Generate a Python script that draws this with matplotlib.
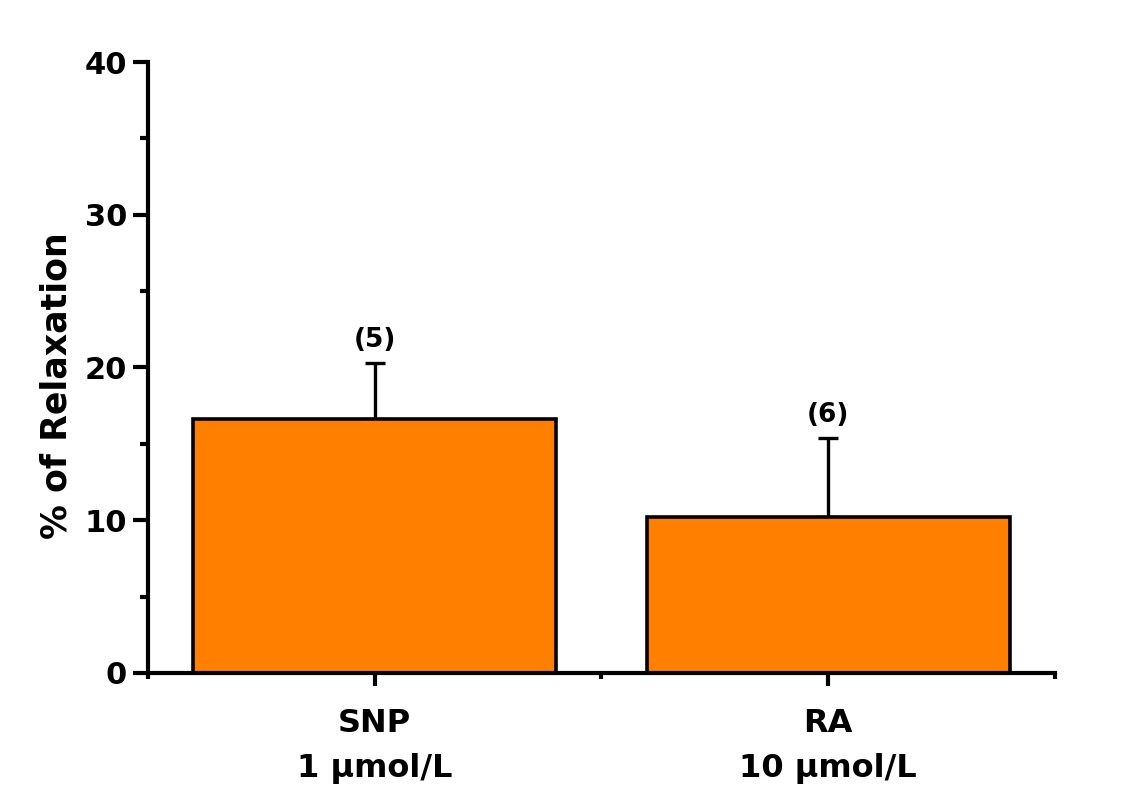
import matplotlib
matplotlib.use('Agg')
import matplotlib.pyplot as plt
import numpy as np

plt.rcParams['font.family'] = ['DejaVu Sans']
plt.rcParams['font.weight'] = 'bold'

categories = ['SNP\n1 μmol/L', 'RA\n10 μmol/L']
means = [16.6, 10.2]
errors = [3.7, 5.2]
n_labels = ['(5)', '(6)']

fig = plt.figure(figsize=(11.41, 7.87), dpi=100)
ax = fig.add_axes([0.1297, 0.1449, 0.7949, 0.7763])

x = np.arange(1, len(categories) + 1)
ax.bar(x, means, width=0.8, color='#ff8000', edgecolor='black', linewidth=2.6, zorder=2)
ax.errorbar(x, means, yerr=[np.zeros(len(errors)), errors], fmt='none',
            ecolor='black', elinewidth=2.4, capsize=7, capthick=2.4, zorder=1)
for xi, m, e, lab in zip(x, means, errors, n_labels):
    ax.text(xi, m + e + 1.5, lab, ha='center', va='center', fontsize=19, fontweight='bold')

ax.set_xlim(0.5, 2.5)
ax.set_ylim(0, 40)
ax.set_xticks(x)
ax.set_xticklabels(categories, fontsize=23, linespacing=1.6)
ax.set_xticks([0.5, 1.5, 2.5], minor=True)
ax.set_yticks([0, 10, 20, 30, 40])
ax.set_yticks([5, 15, 25, 35], minor=True)
ax.tick_params(axis='y', which='major', direction='out', length=11, width=3, labelsize=22, pad=4)
ax.tick_params(axis='y', which='minor', direction='out', length=6, width=3)
ax.tick_params(axis='x', which='major', direction='out', length=9, width=3, pad=16)
ax.tick_params(axis='x', which='minor', direction='out', length=4, width=3)
ax.set_ylabel('% of Relaxation', fontsize=25, fontweight='bold')
ax.yaxis.set_label_coords(-0.082, 0.47)

for s in ['top', 'right']:
    ax.spines[s].set_visible(False)
for s in ['left', 'bottom']:
    ax.spines[s].set_linewidth(3)

fig.savefig('out.png', dpi=100)
